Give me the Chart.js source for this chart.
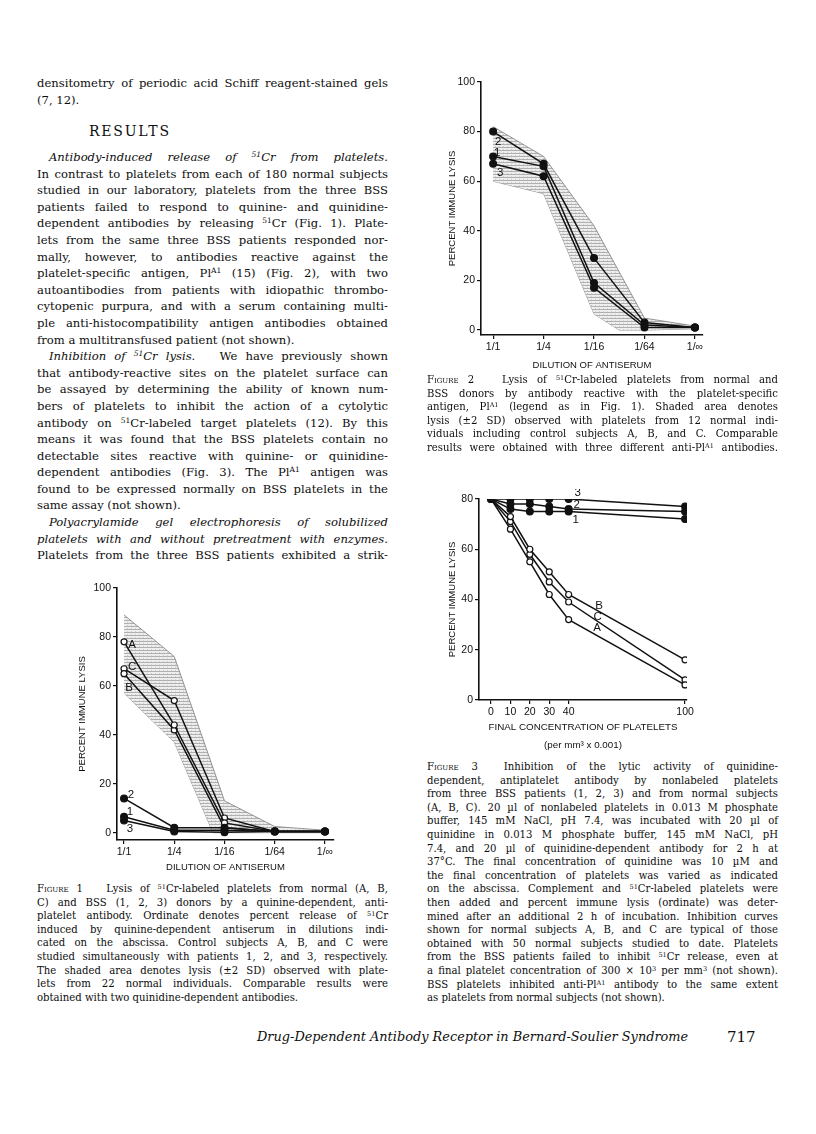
<!DOCTYPE html>
<html lang="en">
<head>
<meta charset="UTF-8">
<title>Drug-Dependent Antibody Receptor in Bernard-Soulier Syndrome</title>
<style>
    body {
        margin: 0;
        width: 816px;
        height: 1134px;
        position: relative;
        background: #fff;
        color: #0d0d0d;
        font-family: 'DejaVu Serif', serif;
        overflow: hidden;
    }
    .col { position: absolute; width: 351px; }
    .body-text { font-size: 11.6px; line-height: 16.6px; }
    .caption { font-size: 10.1px; line-height: 13.6px; }
    .ln { white-space: nowrap; text-align: justify; text-align-last: justify; }
    .ln.end { text-align-last: left; }
    .ln.ind { padding-left: 12px; }
    .sc { font-variant: small-caps; }
    sup { font-size: 0.65em; line-height: 0; vertical-align: 0.5em; }
    .heading { position: absolute; left: 89px; top: 122px; font-size: 14px; letter-spacing: 1.8px; line-height: 18px; }
    .footer { position: absolute; top: 1028px; line-height: 18px; font-size: 12.9px; }
    canvas { position: absolute; }
</style>
</head>
<body>

<!-- left column -->
<div class="col body-text" style="left:37px; top:75px;">
    <div class="ln">densitometry of periodic acid Schiff reagent-stained gels</div>
    <div class="ln end">(7, 12).</div>
</div>
<div class="heading">RESULTS</div>
<div class="col body-text" style="left:37px; top:149px;">
    <div class="ln ind"><i>Antibody-induced release of <sup>51</sup>Cr from platelets.</i></div>
    <div class="ln">In contrast to platelets from each of 180 normal subjects</div>
    <div class="ln">studied in our laboratory, platelets from the three BSS</div>
    <div class="ln">patients failed to respond to quinine- and quinidine-</div>
    <div class="ln">dependent antibodies by releasing <sup>51</sup>Cr (Fig. 1). Plate-</div>
    <div class="ln">lets from the same three BSS patients responded nor-</div>
    <div class="ln">mally, however, to antibodies reactive against the</div>
    <div class="ln">platelet-specific antigen, Pl<sup>A1</sup> (15) (Fig. 2), with two</div>
    <div class="ln">autoantibodies from patients with idiopathic thrombo-</div>
    <div class="ln">cytopenic purpura, and with a serum containing multi-</div>
    <div class="ln">ple anti-histocompatibility antigen antibodies obtained</div>
    <div class="ln end">from a multitransfused patient (not shown).</div>
    <div class="ln ind"><i>Inhibition of <sup>51</sup>Cr lysis.</i>&nbsp;&nbsp; We have previously shown</div>
    <div class="ln">that antibody-reactive sites on the platelet surface can</div>
    <div class="ln">be assayed by determining the ability of known num-</div>
    <div class="ln">bers of platelets to inhibit the action of a cytolytic</div>
    <div class="ln">antibody on <sup>51</sup>Cr-labeled target platelets (12). By this</div>
    <div class="ln">means it was found that the BSS platelets contain no</div>
    <div class="ln">detectable sites reactive with quinine- or quinidine-</div>
    <div class="ln">dependent antibodies (Fig. 3). The Pl<sup>A1</sup> antigen was</div>
    <div class="ln">found to be expressed normally on BSS platelets in the</div>
    <div class="ln end">same assay (not shown).</div>
    <div class="ln ind"><i>Polyacrylamide gel electrophoresis of solubilized</i></div>
    <div class="ln"><i>platelets with and without pretreatment with enzymes.</i></div>
    <div class="ln">Platelets from the three BSS patients exhibited a strik-</div>
</div>

<canvas id="fig1" width="290" height="302" style="left:62px; top:578px;"></canvas>

<div class="col caption" style="left:37px; top:882px;">
    <div class="ln">F<span class="sc">igure</span> 1&nbsp;&nbsp; Lysis of <sup>51</sup>Cr-labeled platelets from normal (A, B,</div>
    <div class="ln">C) and BSS (1, 2, 3) donors by a quinine-dependent, anti-</div>
    <div class="ln">platelet antibody. Ordinate denotes percent release of <sup>51</sup>Cr</div>
    <div class="ln">induced by quinine-dependent antiserum in dilutions indi-</div>
    <div class="ln">cated on the abscissa. Control subjects A, B, and C were</div>
    <div class="ln">studied simultaneously with patients 1, 2, and 3, respectively.</div>
    <div class="ln">The shaded area denotes lysis (±2 SD) observed with plate-</div>
    <div class="ln">lets from 22 normal individuals. Comparable results were</div>
    <div class="ln end">obtained with two quinidine-dependent antibodies.</div>
</div>

<!-- right column -->
<canvas id="fig2" width="290" height="303" style="left:430px; top:72px;"></canvas>

<div class="col caption" style="left:427px; top:373px;">
    <div class="ln">F<span class="sc">igure</span> 2&nbsp;&nbsp; Lysis of <sup>51</sup>Cr-labeled platelets from normal and</div>
    <div class="ln">BSS donors by antibody reactive with the platelet-specific</div>
    <div class="ln">antigen, Pl<sup>A1</sup> (legend as in Fig. 1). Shaded area denotes</div>
    <div class="ln">lysis (±2 SD) observed with platelets from 12 normal indi-</div>
    <div class="ln">viduals including control subjects A, B, and C. Comparable</div>
    <div class="ln">results were obtained with three different anti-Pl<sup>A1</sup> antibodies.</div>
</div>

<canvas id="fig3" width="280" height="267" style="left:428px; top:489px;"></canvas>

<div class="col caption" style="left:427px; top:760px;">
    <div class="ln">F<span class="sc">igure</span> 3&nbsp; Inhibition of the lytic activity of quinidine-</div>
    <div class="ln">dependent, antiplatelet antibody by nonlabeled platelets</div>
    <div class="ln">from three BSS patients (1, 2, 3) and from normal subjects</div>
    <div class="ln">(A, B, C). 20 µl of nonlabeled platelets in 0.013 M phosphate</div>
    <div class="ln">buffer, 145 mM NaCl, pH 7.4, was incubated with 20 µl of</div>
    <div class="ln">quinidine in 0.013 M phosphate buffer, 145 mM NaCl, pH</div>
    <div class="ln">7.4, and 20 µl of quinidine-dependent antibody for 2 h at</div>
    <div class="ln">37°C. The final concentration of quinidine was 10 µM and</div>
    <div class="ln">the final concentration of platelets was varied as indicated</div>
    <div class="ln">on the abscissa. Complement and <sup>51</sup>Cr-labeled platelets were</div>
    <div class="ln">then added and percent immune lysis (ordinate) was deter-</div>
    <div class="ln">mined after an additional 2 h of incubation. Inhibition curves</div>
    <div class="ln">shown for normal subjects A, B, and C are typical of those</div>
    <div class="ln">obtained with 50 normal subjects studied to date. Platelets</div>
    <div class="ln">from the BSS patients failed to inhibit <sup>51</sup>Cr release, even at</div>
    <div class="ln">a final platelet concentration of 300 × 10<sup>3</sup> per mm<sup>3</sup> (not shown).</div>
    <div class="ln">BSS platelets inhibited anti-Pl<sup>A1</sup> antibody to the same extent</div>
    <div class="ln end">as platelets from normal subjects (not shown).</div>
</div>

<div class="footer" style="left:257px;"><i>Drug-Dependent Antibody Receptor in Bernard-Soulier Syndrome</i></div>
<div class="footer" style="left:727px; font-size:15px;">717</div>

<script src="https://cdn.jsdelivr.net/npm/chart.js"></script>
<script>
    // ---- data ----
    const dilutions = ['1/1', '1/4', '1/16', '1/64', '1/\u221E'];
    const dilutionPos = [0, 1, 2, 3, 4];
    const lysisTicks100 = [0, 20, 40, 60, 80, 100];
    const lysisTicks80 = [0, 20, 40, 60, 80];

    // Figure 1 - quinine-dependent antibody
    const fig1BandTopX = [0, 1, 2, 3, 4];
    const fig1BandTop = [89, 72, 13, 2.5, 1];
    const fig1BandLowX = [0, 1, 1.77, 3, 4];
    const fig1BandLow = [57, 37, 0, 0, 0];
    const fig1A = [78, 44, 4, 0.5, 0.5];
    const fig1B = [65, 42, 2, 0.5, 0.5];
    const fig1C = [67, 54, 6, 0.5, 0.5];
    const fig1P1 = [6.5, 1, 1, 0.5, 0.5];
    const fig1P2 = [14, 2, 2, 0.5, 0.5];
    const fig1P3 = [5, 0.5, 0.2, 0.5, 0.5];

    // Figure 2 - anti-PlA1 antibody
    const fig2BandTopX = [0, 1, 2, 3, 4];
    const fig2BandTop = [82, 70, 42, 4.8, 1.6];
    const fig2BandLowX = [0, 1, 2, 2.5, 3, 4];
    const fig2BandLow = [60, 55, 6.5, 0, 0, 0.5];
    const fig2P1 = [70, 66, 19, 2, 1];
    const fig2P2 = [80, 67, 29, 3, 1];
    const fig2P3 = [67, 62, 17, 1, 1];

    // Figure 3 - inhibition by nonlabeled platelets
    const concentration = [0, 10, 20, 30, 40, 100];
    const concTicks = [0, 10, 20, 30, 40, 100];
    const fig3P1 = [80, 76, 75, 75, 75, 72];
    const fig3P2 = [80, 78, 78, 77, 76, 75];
    const fig3P3 = [80, 80, 80, 80, 80, 77];
    const fig3A = [80, 68, 55, 42, 32, 6];
    const fig3B = [80, 73, 60, 51, 42, 16];
    const fig3C = [80, 71, 58, 47, 39, 8];

    // ---- helpers ----
    const INK = '#111';
    const pts = (xs, ys) => xs.map((x, i) => ({ x: x, y: ys[i] }));

    function hatch() {
        const c = document.createElement('canvas');
        c.width = 4; c.height = 3;
        const g = c.getContext('2d');
        g.fillStyle = '#eeeeee';
        g.fillRect(0, 0, 4, 3);
        g.fillStyle = '#b0b0b0';
        g.fillRect(0, 0, 4, 1);
        g.fillStyle = '#d0d0d0';
        g.fillRect(1, 2, 1, 1);
        return g.createPattern(c, 'repeat');
    }

    // band datasets go last so they are painted underneath the curves
    function band(top, low) {
        return [
            { data: top, borderColor: '#7c7c7c', borderWidth: 0.8, pointRadius: 0, fill: '+1', backgroundColor: hatch(), tension: 0 },
            { data: low, borderColor: '#7c7c7c', borderWidth: 0.8, pointRadius: 0, fill: false, tension: 0 }
        ];
    }

    function series(data, open) {
        return {
            data: data,
            borderColor: INK,
            borderWidth: 1.5,
            pointRadius: open ? 3 : 3.4,
            pointBorderWidth: 1.2,
            pointBorderColor: INK,
            pointBackgroundColor: open ? '#fff' : INK,
            fill: false,
            tension: 0
        };
    }

    const labelPlugin = {
        id: 'curveLabels',
        afterDatasetsDraw(chart, args, opts) {
            const { ctx, scales } = chart;
            ctx.save();
            ctx.font = '11.5px "Liberation Sans", sans-serif';
            ctx.fillStyle = INK;
            ctx.textAlign = 'center';
            ctx.textBaseline = 'middle';
            (opts.items || []).forEach(it => {
                ctx.fillText(it.text,
                    scales.x.getPixelForValue(it.x) + (it.dx || 0),
                    scales.y.getPixelForValue(it.y) + (it.dy || 0));
            });
            ctx.restore();
        }
    };

    const tickFont = { family: 'Liberation Sans', size: 10.5 };
    const titleFont = { family: 'Liberation Sans', size: 9.5 };

    function axisX(min, max, tickVals, labelFn, title, boxH, titlePad, titleFontOpt) {
        return {
            type: 'linear', min: min, max: max,
            afterBuildTicks: s => { s.ticks = tickVals.map(v => ({ value: v })); },
            afterFit: s => { s.height = boxH; },
            grid: { drawOnChartArea: false, drawTicks: true, tickLength: 4, color: INK, lineWidth: 1.2 },
            border: { display: true, color: INK, width: 1.6 },
            ticks: { color: INK, font: tickFont, padding: 2, maxRotation: 0, autoSkip: false, callback: labelFn },
            title: { display: true, text: title, color: INK, font: titleFontOpt || titleFont, padding: { top: 0, bottom: titlePad } }
        };
    }

    function axisY(min, max, tickVals, boxW, titlePad) {
        return {
            type: 'linear', min: min, max: max,
            afterBuildTicks: s => { s.ticks = tickVals.map(v => ({ value: v })); },
            afterFit: s => { s.width = boxW; },
            grid: { drawOnChartArea: false, drawTicks: true, tickLength: 4, color: INK, lineWidth: 1.2 },
            border: { display: true, color: INK, width: 1.6 },
            ticks: { color: INK, font: tickFont, padding: 2 },
            title: { display: true, text: 'PERCENT IMMUNE LYSIS', color: INK, font: titleFont, padding: { top: titlePad, bottom: 0 } }
        };
    }

    function baseOptions(padding, scales, labels) {
        return {
            responsive: false,
            animation: false,
            layout: { padding: padding },
            plugins: { legend: { display: false }, tooltip: { enabled: false }, curveLabels: { items: labels } },
            scales: scales
        };
    }

    const dilutionLabel = v => dilutions[dilutionPos.indexOf(v)];

    // ---- Figure 1 ----
    new Chart(document.getElementById('fig1'), {
        type: 'line',
        data: {
            datasets: [
                series(pts(dilutionPos, fig1P1), false),
                series(pts(dilutionPos, fig1P2), false),
                series(pts(dilutionPos, fig1P3), false),
                series(pts(dilutionPos, fig1A), true),
                series(pts(dilutionPos, fig1B), true),
                series(pts(dilutionPos, fig1C), true),
                ...band(pts(fig1BandTopX, fig1BandTop), pts(fig1BandLowX, fig1BandLow))
            ]
        },
        options: baseOptions({ top: 10, right: 18, left: 0, bottom: 0 }, {
            x: axisX(-0.14, 4.18, dilutionPos, dilutionLabel, 'DILUTION OF ANTISERUM', 40, 7.3),
            y: axisY(-3, 100, lysisTicks100, 55, 14.7)
        }, [
            { text: 'A', x: 0, y: fig1A[0], dx: 8, dy: 3 },
            { text: 'C', x: 0, y: fig1C[0], dx: 8, dy: -2 },
            { text: 'B', x: 0, y: fig1B[0], dx: 5, dy: 14 },
            { text: '2', x: 0, y: fig1P2[0], dx: 7, dy: -4 },
            { text: '1', x: 0, y: fig1P1[0], dx: 6, dy: -5 },
            { text: '3', x: 0, y: fig1P3[0], dx: 6, dy: 8 }
        ]),
        plugins: [labelPlugin]
    });

    // ---- Figure 2 ----
    new Chart(document.getElementById('fig2'), {
        type: 'line',
        data: {
            datasets: [
                series(pts(dilutionPos, fig2P1), false),
                series(pts(dilutionPos, fig2P2), false),
                series(pts(dilutionPos, fig2P3), false),
                ...band(pts(fig2BandTopX, fig2BandTop), pts(fig2BandLowX, fig2BandLow))
            ]
        },
        options: baseOptions({ top: 10, right: 17, left: 0, bottom: 0 }, {
            x: axisX(-0.24, 4.16, dilutionPos, dilutionLabel, 'DILUTION OF ANTISERUM', 40, 4.3),
            y: axisY(-2, 100, lysisTicks100, 51, 16.3)
        }, [
            { text: '2', x: 0, y: fig2P2[0], dx: 5, dy: 10 },
            { text: '1', x: 0, y: fig2P1[0], dx: 4, dy: -4 },
            { text: '3', x: 0, y: fig2P3[0], dx: 7, dy: 9 }
        ]),
        plugins: [labelPlugin]
    });

    // ---- Figure 3 ----
    new Chart(document.getElementById('fig3'), {
        type: 'line',
        data: {
            datasets: [
                series(pts(concentration, fig3P1), false),
                series(pts(concentration, fig3P2), false),
                series(pts(concentration, fig3P3), false),
                series(pts(concentration, fig3A), true),
                series(pts(concentration, fig3B), true),
                series(pts(concentration, fig3C), true)
            ]
        },
        options: baseOptions({ top: 10, right: 21, left: 0, bottom: 0 }, {
            x: axisX(-6.2, 101, concTicks, v => String(v),
                ['FINAL CONCENTRATION OF PLATELETS', '(per mm\u00B3 x 0.001)'], 56, 2,
                { family: 'Liberation Sans', size: 9.8, lineHeight: 1.85 }),
            y: axisY(0, 80, lysisTicks80, 51, 18.3)
        }, [
            { text: '3', x: 40, y: fig3P3[4], dx: 9, dy: -6 },
            { text: '2', x: 40, y: fig3P2[4], dx: 8, dy: -4 },
            { text: '1', x: 40, y: fig3P1[4], dx: 7, dy: 8 },
            { text: 'B', x: 55.7, y: 37.5 },
            { text: 'C', x: 55, y: 33 },
            { text: 'A', x: 54.6, y: 28.7 }
        ]),
        plugins: [labelPlugin]
    });
</script>
</body>
</html>
